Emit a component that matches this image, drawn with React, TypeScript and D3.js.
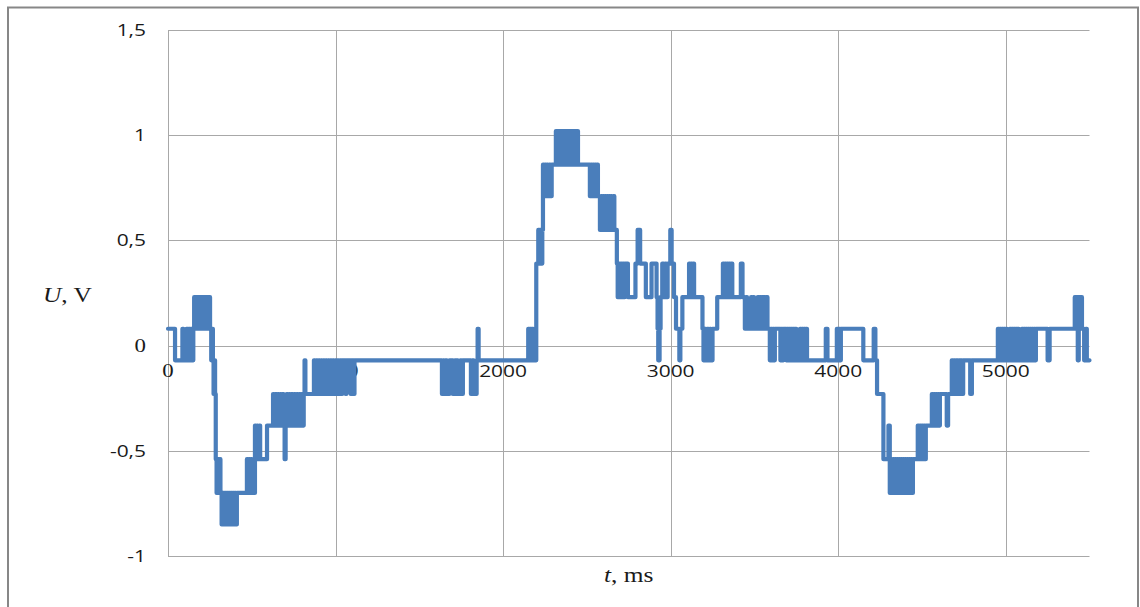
import React from "react";
import * as d3 from "d3";

// chart frame (pixels of the 1140x607 picture)
const W = 1140;
const H = 607;
const plot = { left: 168, right: 1089.5, top: 30, bottom: 556 };

// axes
const yTicks = [-1, -0.5, 0, 0.5, 1, 1.5];
const yTickLabels = ["-1", "-0,5", "0", "0,5", "1", "1,5"];
const xTicks = [0, 1000, 2000, 3000, 4000, 5000];
const xTickLabels = ["0", "1000", "2000", "3000", "4000", "5000"];
const xMax = 5500;

// measured voltage, [t in ms, U in V] – value holds until the next sample
const samples: [number, number][] = [
  [0, 0.08], [42, -0.07], [86, 0.08], [92, -0.07], [110, 0.08], [118, -0.07], [124, 0.08], [132, -0.07], [138, 0.08], [146, -0.07], [151, 0.08],
  [156, 0.23], [163, 0.08], [170, 0.23], [177, 0.08], [184, 0.23], [190, 0.08], [197, 0.23], [204, 0.08], [210, 0.23], [216, 0.08], [222, 0.23], [229, 0.08], [235, 0.23], [251, 0.08],
  [258, -0.07], [263, 0.08], [268, -0.07], [272, -0.23], [277, -0.07], [281, -0.23], [285, -0.54], [290, -0.70], [296, -0.54], [302, -0.70], [308, -0.54], [313, -0.70],
  [320, -0.85], [326, -0.70], [332, -0.85], [338, -0.70], [344, -0.85], [350, -0.70], [356, -0.85], [362, -0.70], [368, -0.85], [374, -0.70], [380, -0.85], [386, -0.70], [392, -0.85], [398, -0.70], [404, -0.85], [411, -0.70],
  [471, -0.54], [477, -0.70], [483, -0.54], [489, -0.70], [495, -0.54], [501, -0.70], [507, -0.54], [513, -0.70], [519, -0.38], [524, -0.54], [531, -0.38], [536, -0.54], [545, -0.38], [550, -0.54], [591, -0.38],
  [627, -0.23], [634, -0.38], [641, -0.23], [648, -0.38], [655, -0.23], [662, -0.38], [669, -0.23], [676, -0.38], [683, -0.23], [690, -0.38], [696, -0.54], [702, -0.38], [708, -0.23], [715, -0.38], [722, -0.23], [729, -0.38], [736, -0.23], [745, -0.38], [752, -0.23], [760, -0.38], [768, -0.23], [775, -0.38], [782, -0.23], [790, -0.38], [797, -0.23], [804, -0.38], [810, -0.23],
  [815, -0.07], [820, -0.23], [871, -0.07], [878, -0.23], [885, -0.07], [892, -0.23], [899, -0.07], [906, -0.23], [913, -0.07], [920, -0.23], [927, -0.07], [934, -0.23], [941, -0.07], [948, -0.23], [955, -0.07], [962, -0.23], [969, -0.07], [976, -0.23], [983, -0.07], [990, -0.23], [997, -0.07], [1004, -0.23], [1011, -0.07], [1018, -0.23], [1025, -0.07], [1035, -0.23], [1040, -0.07], [1060, -0.23], [1065, -0.07], [1090, -0.23], [1095, -0.07], [1108, -0.23], [1113, -0.07],
  [1635, -0.23], [1642, -0.07], [1648, -0.23], [1655, -0.07], [1665, -0.23], [1680, -0.07], [1700, -0.23], [1712, -0.07], [1730, -0.23], [1745, -0.07], [1750, -0.23], [1760, -0.07], [1808, -0.23], [1815, -0.07], [1825, -0.23], [1842, -0.07], [1848, 0.08], [1854, -0.07],
  [2150, 0.08], [2156, -0.07], [2162, 0.08], [2168, -0.07], [2174, 0.08], [2180, -0.07], [2186, 0.08], [2192, -0.07],
  [2198, 0.39], [2210, 0.55], [2216, 0.39], [2222, 0.55], [2228, 0.39], [2234, 0.55], [2238, 0.86], [2244, 0.71], [2250, 0.86], [2256, 0.71], [2262, 0.86], [2268, 0.71], [2276, 0.86], [2282, 0.71], [2290, 0.86],
  [2315, 1.02], [2330, 0.86], [2336, 1.02], [2345, 0.86], [2350, 1.02], [2357, 0.86], [2363, 1.02], [2370, 0.86], [2376, 1.02], [2383, 0.86], [2389, 1.02], [2396, 0.86], [2402, 1.02], [2409, 0.86], [2415, 1.02], [2422, 0.86], [2428, 1.02], [2435, 0.86], [2441, 1.02], [2447, 0.86],
  [2518, 0.71], [2524, 0.86], [2530, 0.71], [2536, 0.86], [2542, 0.71], [2548, 0.86], [2554, 0.71], [2560, 0.86], [2566, 0.71],
  [2578, 0.55], [2584, 0.71], [2590, 0.55], [2596, 0.71], [2602, 0.55], [2608, 0.71], [2614, 0.55], [2620, 0.71], [2626, 0.55], [2632, 0.71], [2638, 0.55], [2644, 0.71], [2650, 0.55], [2658, 0.71], [2664, 0.55],
  [2679, 0.39], [2684, 0.23], [2690, 0.39], [2696, 0.23], [2702, 0.39], [2708, 0.23], [2714, 0.39], [2720, 0.23], [2726, 0.39], [2745, 0.23], [2790, 0.39], [2803, 0.55], [2818, 0.39], [2852, 0.23], [2886, 0.39], [2916, 0.23], [2922, 0.08], [2926, -0.07], [2934, 0.08], [2940, 0.23], [2950, 0.39], [2958, 0.23], [2966, 0.39], [2974, 0.23], [2982, 0.39], [2998, 0.55], [3006, 0.39], [3020, 0.23], [3032, 0.08], [3052, -0.07], [3058, 0.08], [3070, 0.23], [3110, 0.39], [3116, 0.23], [3122, 0.39], [3128, 0.23], [3134, 0.39], [3140, 0.23],
  [3190, 0.08], [3196, -0.07], [3203, 0.08], [3210, -0.07], [3218, 0.08], [3226, -0.07], [3234, 0.08], [3240, -0.07], [3250, 0.08], [3278, 0.23],
  [3312, 0.39], [3318, 0.23], [3324, 0.39], [3330, 0.23], [3336, 0.39], [3342, 0.23], [3348, 0.39], [3354, 0.23], [3360, 0.39], [3368, 0.23],
  [3419, 0.39], [3429, 0.23],
  [3443, 0.08], [3450, 0.23], [3456, 0.08], [3480, 0.23], [3486, 0.08], [3492, 0.23], [3498, 0.08], [3520, 0.23], [3526, 0.08], [3532, 0.23], [3538, 0.08], [3544, 0.23], [3550, 0.08], [3556, 0.23], [3562, 0.08], [3568, 0.23], [3578, 0.08],
  [3592, -0.07], [3598, 0.08], [3604, -0.07], [3610, 0.08], [3616, -0.07], [3622, 0.08],
  [3655, -0.07], [3661, 0.08], [3667, -0.07], [3673, 0.08], [3690, -0.07], [3696, 0.08], [3702, -0.07], [3708, 0.08], [3714, -0.07], [3720, 0.08], [3726, -0.07], [3732, 0.08], [3738, -0.07], [3744, 0.08], [3750, -0.07], [3772, 0.08], [3778, -0.07], [3784, 0.08], [3790, -0.07], [3796, 0.08], [3802, -0.07], [3808, 0.08], [3814, -0.07],
  [3926, 0.08], [3936, -0.07],
  [3992, 0.08], [3998, -0.07], [4004, 0.08], [4010, -0.07], [4016, 0.08],
  [4150, -0.07], [4212, 0.08], [4222, -0.07], [4232, -0.23],
  [4270, -0.54], [4300, -0.38], [4308, -0.70], [4314, -0.54], [4320, -0.70], [4326, -0.54], [4332, -0.70], [4338, -0.54], [4344, -0.70], [4350, -0.54], [4356, -0.70], [4362, -0.54], [4368, -0.70], [4374, -0.54], [4380, -0.70], [4386, -0.54], [4392, -0.70], [4398, -0.54], [4404, -0.70], [4410, -0.54], [4416, -0.70], [4422, -0.54], [4428, -0.70], [4434, -0.54], [4440, -0.70], [4446, -0.54],
  [4475, -0.38], [4481, -0.54], [4487, -0.38], [4493, -0.54], [4499, -0.38], [4505, -0.54], [4511, -0.38], [4517, -0.54], [4523, -0.38],
  [4559, -0.23], [4565, -0.38], [4571, -0.23], [4577, -0.38], [4583, -0.23], [4589, -0.38], [4595, -0.23], [4601, -0.38], [4607, -0.23],
  [4648, -0.38], [4656, -0.23],
  [4678, -0.07], [4684, -0.23], [4690, -0.07], [4696, -0.23], [4702, -0.07], [4716, -0.23], [4722, -0.07], [4740, -0.23], [4746, -0.07],
  [4788, -0.23], [4798, -0.07],
  [4953, 0.08], [4959, -0.07], [4965, 0.08], [4971, -0.07], [4977, 0.08], [4983, -0.07], [4989, 0.08], [4995, -0.07], [5001, 0.08], [5008, -0.07],
  [5024, 0.08], [5030, -0.07], [5036, 0.08], [5042, -0.07], [5048, 0.08], [5054, -0.07], [5060, 0.08], [5066, -0.07], [5072, 0.08], [5078, -0.07],
  [5096, 0.08], [5102, -0.07], [5108, 0.08], [5114, -0.07], [5120, 0.08], [5126, -0.07], [5132, 0.08], [5138, -0.07], [5144, 0.08], [5150, -0.07], [5156, 0.08], [5162, -0.07], [5168, 0.08], [5174, -0.07], [5180, 0.08],
  [5250, -0.07], [5262, 0.08],
  [5412, 0.23], [5418, 0.08], [5424, 0.23], [5430, -0.07], [5436, 0.23], [5442, 0.08], [5446, 0.23], [5455, 0.08], [5468, -0.07], [5478, 0.08], [5484, -0.07], [5500, -0.07],
];

const SANS = "'Open Sans', 'Liberation Sans', sans-serif";
const SERIF = "'Liberation Serif', 'DejaVu Serif', serif";
const STRETCH = 1.27; // the original picture is widened, text too

// some tick labels came out in Times in the original
const serifX = ["0", "1000"];
const serifY = ["0"];

function Txt(props: { x: number; y: number; anchor?: string; font: string; size: number; children: any }) {
  return (
    <text
      transform={`translate(${props.x},${props.y}) scale(${STRETCH},1)`}
      textAnchor={props.anchor || "start"}
      fontFamily={props.font}
      fontSize={props.size}
      fill="#1a1a1a"
    >
      {props.children}
    </text>
  );
}

export default function App() {
  const x = d3.scaleLinear().domain([0, xMax]).range([plot.left, plot.right]);
  const y = d3.scaleLinear().domain([-1, 1.5]).range([plot.bottom, plot.top]);
  const crisp = (v: number) => Math.round(v) + 0.5;

  const line = d3
    .line<[number, number]>()
    .x((d) => x(d[0]))
    .y((d) => y(d[1]))
    .curve(d3.curveStepAfter);

  return (
    <svg
      width={W}
      height={H}
      style={{ position: "absolute", left: 0, top: 0, background: "#fff" }}
    >
      <rect x={8} y={7.5} width={1130} height={640} fill="#fff" stroke="#878787" strokeWidth={2} />

      {/* grid */}
      {yTicks.map((t) => (
        <line key={"gy" + t} x1={plot.left} x2={plot.right} y1={crisp(y(t))} y2={crisp(y(t))} stroke="#a8a8a8" strokeWidth={1} />
      ))}
      {xTicks.map((t) => (
        <line key={"gx" + t} x1={crisp(x(t))} x2={crisp(x(t))} y1={plot.top} y2={plot.bottom} stroke="#a8a8a8" strokeWidth={1} />
      ))}

      {/* tick labels */}
      {yTicks.map((t, i) => {
        const lab = yTickLabels[i];
        const serif = serifY.includes(lab);
        return (
          <Txt key={"ly" + t} x={146} y={y(t) + 6} anchor="end" font={serif ? SERIF : SANS} size={serif ? 18 : 16.5}>
            {lab}
          </Txt>
        );
      })}
      {xTicks.map((t, i) => {
        const lab = xTickLabels[i];
        const serif = serifX.includes(lab);
        return (
          <Txt key={"lx" + t} x={x(t)} y={y(0) + 31} anchor="middle" font={serif ? SERIF : SANS} size={serif ? 18 : 16.5}>
            {lab}
          </Txt>
        );
      })}

      {/* axis titles */}
      <Txt x={43} y={302} font={SERIF} size={20}>
        <tspan fontStyle="italic">U</tspan>, V
      </Txt>
      <Txt x={(plot.left + plot.right) / 2} y={582} anchor="middle" font={SERIF} size={20}>
        <tspan fontStyle="italic">t</tspan>, ms
      </Txt>

      <path
        d={line(samples) || ""}
        fill="none"
        stroke="#4a7ebb"
        strokeWidth={4.2}
        strokeLinejoin="round"
        strokeLinecap="round"
      />
    </svg>
  );
}
